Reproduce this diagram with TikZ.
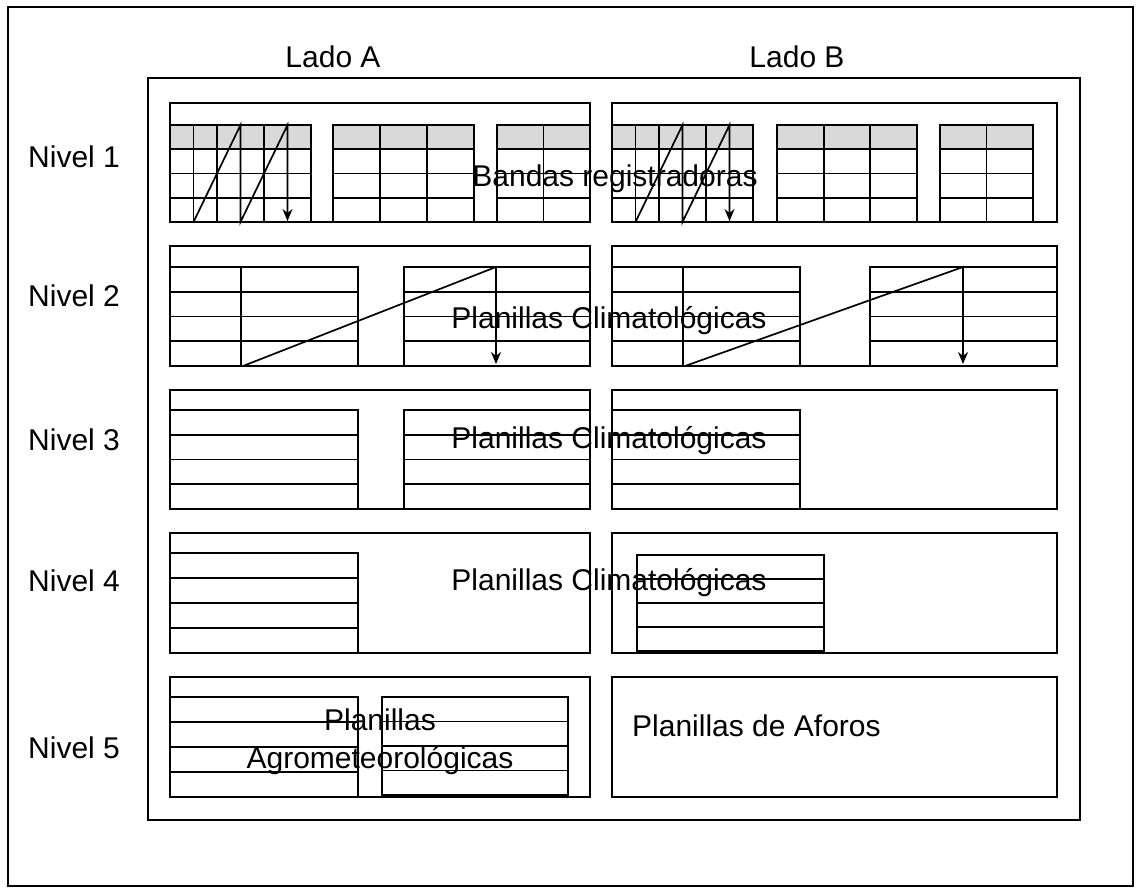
\documentclass[tikz,border=0pt]{standalone}
\usepackage{fontspec}
\setmainfont{Liberation Sans}
\usetikzlibrary{arrows.meta}

% planilla de 4 filas: x izq, x der, y sup, y inf
\newcommand{\planilla}[4]{%
  \draw[tabla] (#1,#3) rectangle (#2,#4);
  \foreach \k in {1,2,3}
    \draw[tabla] (#1,{#3+\k*(#4-#3)/4}) -- (#2,{#3+\k*(#4-#3)/4});
}

\begin{document}
\begin{tikzpicture}[x=1pt,y=-1pt,
  marco/.style={line width=1.8pt},
  caja/.style={line width=2.2pt},
  tabla/.style={line width=1.9pt},
  sombra/.style={fill=black!15},
  flecha/.style={line width=1.7pt,-{Stealth[length=12pt,width=10pt]}}]

\useasboundingbox (0,0) rectangle (1138,889);

% marcos
\draw[marco] (8,7) rectangle (1133,886);
\draw[marco] (148,78) rectangle (1080,820);

% cajas de los niveles
\foreach \t/\b in {103/222,246/366,390/509,533/653,677/797} {
  \draw[caja] (170,\t) rectangle (590,\b);
  \draw[caja] (612,\t) rectangle (1057,\b);
}

% nivel 1
\foreach \xa/\xb in {170/311,333/474,497/590,612/753,777/917,940/1033} {
  \fill[sombra] (\xa,125) rectangle (\xb,148);
  \planilla{\xa}{\xb}{125}{222}
}
\foreach \c in {193.5,217,240.5,264,287.5,380,427,543.5,
                635.5,659,682.5,706,729.5,823.7,870.3,986.5}
  \draw[tabla] (\c,125) -- (\c,222);
\draw[flecha] (193.5,222) -- (240.5,125) -- (240.5,222) -- (287.5,125) -- (287.5,221);
\draw[flecha] (635.5,222) -- (682.5,125) -- (682.5,222) -- (729.5,125) -- (729.5,221);

% nivel 2
\planilla{170}{358}{267}{366}
\planilla{404}{590}{267}{366}
\planilla{612}{800}{267}{366}
\planilla{870}{1057}{267}{366}
\draw[tabla] (241,267) -- (241,366);
\draw[tabla] (683,267) -- (683,366);
\draw[flecha] (243,366) -- (496,267) -- (496,364);
\draw[flecha] (685,366) -- (963,267) -- (963,364);

% nivel 3
\planilla{170}{358}{410}{509}
\planilla{404}{590}{410}{509}
\planilla{612}{800}{410}{509}

% nivel 4
\planilla{170}{358}{553}{653}
\planilla{637}{824}{555}{651}

% nivel 5
\planilla{170}{358}{697}{797}
\planilla{382}{568}{697}{795}

\begin{scope}[every node/.style={font=\fontsize{30}{38}\selectfont,inner sep=0pt}]
    \node (ladoA) at (333,57) {Lado A};
    \node (ladoB) at (797,57) {Lado B};
    \node[anchor=west] (niv1) at (28,157) {Nivel 1};
    \node[anchor=west] (niv2) at (28,296) {Nivel 2};
    \node[anchor=west] (niv3) at (28,440) {Nivel 3};
    \node[anchor=west] (niv4) at (28,581) {Nivel 4};
    \node[anchor=west] (niv5) at (28,748) {Nivel 5};
    \node (bandas) at (615,179) {Bandas registradoras};
    \node (clim2) at (609,321) {Planillas Climatológicas};
    \node (clim3) at (609,441) {Planillas Climatológicas};
    \node (clim4) at (609,583) {Planillas Climatológicas};
    \node[align=center] (agro) at (380,742) {Planillas\\Agrometeorológicas};
    \node[anchor=west] (aforos) at (632,726) {Planillas de Aforos};
\end{scope}
\end{tikzpicture}
\end{document}
